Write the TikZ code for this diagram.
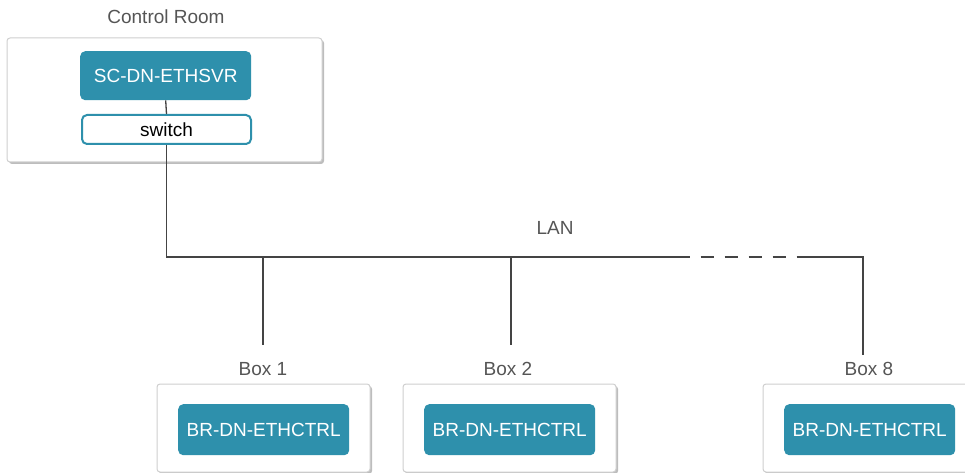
\documentclass[tikz,border=0pt]{standalone}
\usepackage{fontspec}
\setmainfont{Liberation Sans}
\definecolor{teal1}{HTML}{2E90AC}
\definecolor{linec}{HTML}{444444}
\definecolor{framec}{HTML}{CFCFCF}
\definecolor{shadowc}{HTML}{BDBDBD}
\definecolor{labelc}{HTML}{555555}
\begin{document}
\begin{tikzpicture}[x=1pt,y=-1pt,
  txt/.style={font=\fontsize{19}{22}\selectfont},
  frame/.style={draw=framec,line width=1pt,fill=white,rounded corners=3pt},
  shade/.style={fill=shadowc,rounded corners=3pt},
  dev/.style={txt,fill=teal1,text=white,rounded corners=5pt,inner sep=0pt,anchor=north west},
  sw/.style={txt,draw=teal1,line width=2pt,fill=white,text=black,rounded corners=5pt,inner sep=0pt,anchor=north west},
  lbl/.style={txt,text=labelc,inner sep=0pt},
  wire/.style={draw=linec,line width=1.3pt}]
\useasboundingbox (0,0) rectangle (965,473);
% Control room
\node[lbl] (crl) at (166,17) {Control Room};
\fill[shade] (9,40) rectangle (324,164);
\draw[frame] (7,38) rectangle (322,162);
\node[dev,minimum width=171pt,minimum height=49pt] (svr) at (80,51) {SC-DN-ETHSVR};
\node[sw,minimum width=169pt,minimum height=29pt] (sw) at (81,114) {switch};
\draw[wire] (svr.south) -- (sw.north);
% bottom boxes
\foreach \bx/\ix/\lx/\nm in {157/178/263/1,403/424/508/2,763/784/869/8}{
  \fill[shade] (\bx+2,386) rectangle (\bx+215,474);
  \draw[frame] (\bx,384) rectangle (\bx+213,472);
  \node[dev,minimum width=171pt,minimum height=51pt] (ctl\nm) at (\ix,404) {BR-DN-ETHCTRL};
  \node[lbl] (box\nm) at (\lx,369) {Box \nm};
}
% LAN
\node[lbl] (lan) at (555,228) {LAN};
\coordinate (b0) at (166,257);
\coordinate (b1) at (263,257);
\coordinate (b2) at (511,257);
\coordinate (d0) at (690,257);
\coordinate (d1) at (700.7,257);
\coordinate (d2) at (786,257);
\coordinate (d3) at (796.7,257);
\coordinate (b8) at (863,257);
\coordinate (e1) at (263,345);
\coordinate (e2) at (511,345);
\coordinate (e8) at (863,355);
\draw[wire] (sw.south) |- (d0);
\draw[wire,dash pattern=on 13.3pt off 10.7pt] (d1) -- (d2);
\draw[wire] (d3) -- (b8) -- (e8);
\draw[wire] (b1) -- (e1);
\draw[wire] (b2) -- (e2);
\end{tikzpicture}
\end{document}
